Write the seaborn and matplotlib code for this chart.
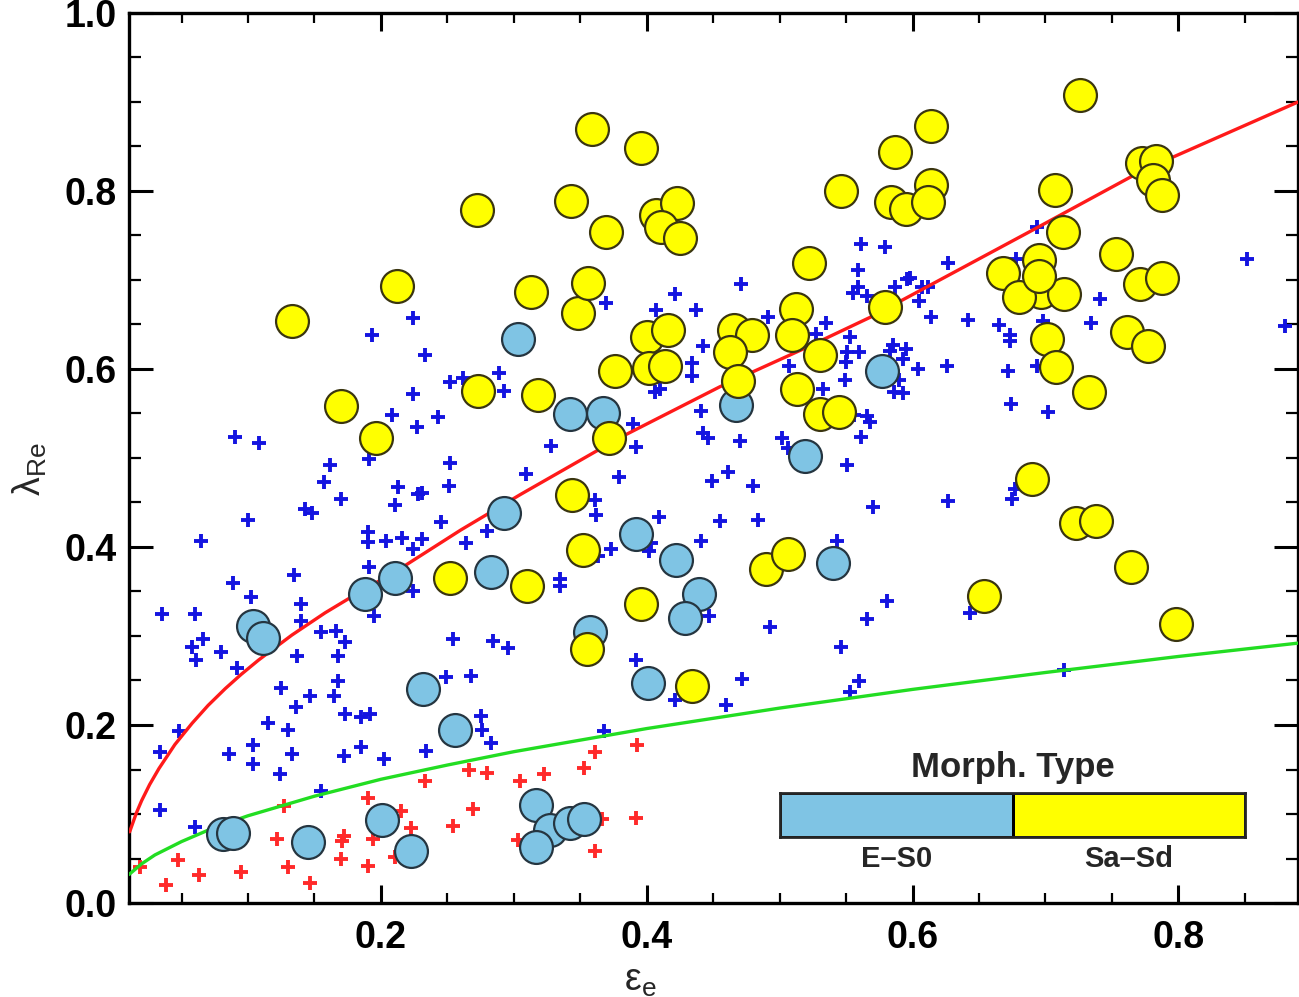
import numpy as np
import pandas as pd
import matplotlib
matplotlib.use('Agg')
import matplotlib.pyplot as plt
import seaborn as sns
from matplotlib.colors import ListedColormap
from matplotlib.ticker import MultipleLocator, FormatStrFormatter

### Sa-Sd galaxies (yellow circles)
yel_eps = [0.133, 0.212, 0.170, 0.196, 0.272, 0.273, 0.252, 0.313, 0.318, 0.310, 0.343, 0.348, 0.356, 0.359,
           0.369, 0.376, 0.372, 0.344, 0.352, 0.355, 0.396, 0.407, 0.423, 0.411, 0.425, 0.546, 0.587, 0.584,
           0.595, 0.522, 0.512, 0.579, 0.726, 0.614, 0.614, 0.612, 0.707, 0.773, 0.783, 0.781, 0.788, 0.713,
           0.695, 0.668, 0.697, 0.714, 0.680, 0.695, 0.753, 0.771, 0.788, 0.701, 0.708, 0.733, 0.761, 0.777,
           0.690, 0.723, 0.738, 0.764, 0.654, 0.798, 0.400, 0.416, 0.402, 0.414, 0.466, 0.479, 0.463, 0.469,
           0.509, 0.530, 0.513, 0.530, 0.545, 0.396, 0.490, 0.506, 0.434]
yel_lam = [0.654, 0.693, 0.558, 0.522, 0.779, 0.575, 0.365, 0.686, 0.571, 0.356, 0.789, 0.663, 0.697, 0.870,
           0.754, 0.598, 0.523, 0.458, 0.397, 0.285, 0.848, 0.773, 0.787, 0.759, 0.747, 0.800, 0.844, 0.788,
           0.780, 0.719, 0.667, 0.670, 0.908, 0.873, 0.807, 0.788, 0.801, 0.831, 0.834, 0.812, 0.796, 0.754,
           0.723, 0.708, 0.687, 0.684, 0.681, 0.705, 0.729, 0.696, 0.702, 0.634, 0.602, 0.574, 0.642, 0.626,
           0.476, 0.427, 0.429, 0.377, 0.345, 0.313, 0.636, 0.644, 0.601, 0.603, 0.644, 0.638, 0.619, 0.587,
           0.638, 0.616, 0.578, 0.549, 0.552, 0.336, 0.375, 0.392, 0.244]

### E-S0 galaxies (light blue circles)
blu_eps = [0.303, 0.293, 0.283, 0.211, 0.188, 0.342, 0.367, 0.467, 0.577, 0.519, 0.392, 0.422, 0.540, 0.439,
           0.429, 0.357, 0.401, 0.317, 0.327, 0.317, 0.342, 0.353, 0.104, 0.111, 0.232, 0.256, 0.081, 0.089,
           0.145, 0.201, 0.223]
blu_lam = [0.634, 0.438, 0.372, 0.365, 0.347, 0.549, 0.551, 0.559, 0.598, 0.502, 0.415, 0.385, 0.382, 0.347,
           0.320, 0.304, 0.247, 0.110, 0.082, 0.063, 0.090, 0.094, 0.311, 0.298, 0.240, 0.194, 0.077, 0.079,
           0.068, 0.093, 0.058]

### fast rotators (blue crosses), (eps, lambda)
fast_pts = [
    (0.224, 0.657), (0.193, 0.638), (0.233, 0.616), (0.289, 0.596), (0.262, 0.590), (0.252, 0.585), (0.293, 0.575),
    (0.224, 0.572), (0.208, 0.548), (0.243, 0.546), (0.227, 0.535), (0.090, 0.524), (0.108, 0.517), (0.191, 0.499),
    (0.162, 0.492), (0.252, 0.494), (0.157, 0.473), (0.213, 0.467), (0.251, 0.469), (0.228, 0.459), (0.231, 0.461),
    (0.170, 0.454), (0.211, 0.447), (0.143, 0.443), (0.148, 0.438), (0.100, 0.430), (0.245, 0.428), (0.065, 0.407),
    (0.190, 0.417), (0.190, 0.406), (0.204, 0.407), (0.216, 0.410), (0.231, 0.409), (0.224, 0.398), (0.264, 0.404),
    (0.280, 0.418), (0.191, 0.377), (0.135, 0.368), (0.089, 0.359), (0.102, 0.344), (0.224, 0.351), (0.140, 0.336),
    (0.035, 0.325), (0.060, 0.325), (0.140, 0.317), (0.195, 0.323), (0.066, 0.297), (0.058, 0.288), (0.061, 0.273),
    (0.080, 0.282), (0.092, 0.264), (0.155, 0.304), (0.166, 0.306), (0.173, 0.293), (0.137, 0.277), (0.168, 0.278),
    (0.168, 0.250), (0.254, 0.297), (0.284, 0.294), (0.296, 0.286), (0.125, 0.242), (0.147, 0.233), (0.165, 0.233),
    (0.136, 0.220), (0.249, 0.254), (0.268, 0.255), (0.173, 0.212), (0.185, 0.209), (0.192, 0.212), (0.115, 0.202),
    (0.130, 0.194), (0.048, 0.193), (0.034, 0.170), (0.086, 0.167), (0.104, 0.177), (0.104, 0.156), (0.133, 0.167),
    (0.172, 0.165), (0.185, 0.175), (0.202, 0.162), (0.234, 0.171), (0.275, 0.210), (0.276, 0.194), (0.283, 0.180),
    (0.124, 0.145), (0.155, 0.126), (0.034, 0.104), (0.060, 0.085),
    (0.447, 0.322), (0.493, 0.310), (0.566, 0.319), (0.546, 0.288), (0.392, 0.273), (0.472, 0.252), (0.560, 0.250),
    (0.553, 0.237), (0.421, 0.228), (0.460, 0.222), (0.368, 0.193), (0.643, 0.326), (0.714, 0.262),
    (0.491, 0.658), (0.535, 0.652), (0.442, 0.626), (0.434, 0.607), (0.434, 0.592), (0.406, 0.574), (0.410, 0.577),
    (0.527, 0.639), (0.553, 0.636), (0.551, 0.619), (0.560, 0.619), (0.550, 0.608), (0.585, 0.627), (0.583, 0.620),
    (0.593, 0.611), (0.595, 0.622), (0.507, 0.603), (0.549, 0.588), (0.590, 0.588), (0.533, 0.577), (0.586, 0.574),
    (0.593, 0.573), (0.441, 0.553), (0.390, 0.538), (0.392, 0.512), (0.328, 0.514), (0.442, 0.528), (0.446, 0.523),
    (0.470, 0.519), (0.502, 0.523), (0.506, 0.511), (0.556, 0.548), (0.566, 0.547), (0.568, 0.540), (0.561, 0.524),
    (0.551, 0.492), (0.309, 0.482), (0.379, 0.479), (0.461, 0.484), (0.449, 0.474), (0.480, 0.468), (0.361, 0.453),
    (0.362, 0.436), (0.409, 0.434), (0.455, 0.429), (0.484, 0.430), (0.570, 0.445), (0.441, 0.407), (0.403, 0.405),
    (0.402, 0.395), (0.373, 0.398), (0.363, 0.390), (0.543, 0.407), (0.335, 0.364), (0.335, 0.356), (0.581, 0.339),
    (0.614, 0.658), (0.642, 0.655), (0.665, 0.649), (0.673, 0.638), (0.673, 0.632), (0.698, 0.654), (0.734, 0.652),
    (0.604, 0.600), (0.626, 0.603), (0.672, 0.598), (0.694, 0.603), (0.674, 0.561), (0.702, 0.552), (0.880, 0.648),
    (0.627, 0.452), (0.675, 0.454), (0.677, 0.465),
    (0.694, 0.759), (0.627, 0.719), (0.678, 0.724), (0.852, 0.724), (0.598, 0.702), (0.607, 0.692), (0.612, 0.692),
    (0.605, 0.676), (0.741, 0.679),
    (0.561, 0.741), (0.579, 0.737), (0.559, 0.711), (0.559, 0.692), (0.555, 0.685), (0.566, 0.682), (0.587, 0.692),
    (0.596, 0.701), (0.471, 0.696), (0.421, 0.684), (0.369, 0.674), (0.407, 0.666), (0.437, 0.666),
]

### slow rotators (red crosses)
slow_pts = [
    (0.019, 0.040), (0.047, 0.048), (0.038, 0.020), (0.063, 0.031), (0.095, 0.035), (0.122, 0.072), (0.130, 0.040),
    (0.147, 0.023), (0.170, 0.049), (0.172, 0.075), (0.171, 0.070), (0.190, 0.118), (0.194, 0.072), (0.190, 0.042),
    (0.215, 0.103), (0.223, 0.084), (0.211, 0.052), (0.233, 0.137), (0.254, 0.087), (0.266, 0.150), (0.280, 0.146),
    (0.269, 0.106), (0.305, 0.137), (0.303, 0.071), (0.393, 0.178), (0.361, 0.170), (0.353, 0.152), (0.323, 0.145),
    (0.366, 0.094), (0.392, 0.095), (0.361, 0.058), (0.127, 0.109),
]

### curves
red_eps = [0.011, 0.016, 0.020, 0.026, 0.033, 0.045, 0.058, 0.070, 0.083, 0.095, 0.108, 0.133, 0.158, 0.178,
           0.200, 0.217, 0.260, 0.305, 0.380, 0.455, 0.520, 0.568, 0.598, 0.694, 0.773, 0.890]
red_lam = [0.080, 0.101, 0.115, 0.133, 0.151, 0.178, 0.202, 0.222, 0.241, 0.257, 0.273, 0.301, 0.326, 0.344,
           0.363, 0.378, 0.419, 0.459, 0.523, 0.580, 0.624, 0.658, 0.682, 0.759, 0.823, 0.900]
green_eps = [0.0105, 0.02, 0.03, 0.05, 0.075, 0.10, 0.15, 0.20, 0.25, 0.30, 0.40, 0.50, 0.60, 0.70, 0.80, 0.89]
green_lam = [0.032, 0.044, 0.054, 0.069, 0.085, 0.098, 0.120, 0.139, 0.155, 0.170, 0.196, 0.219, 0.240, 0.259,
             0.277, 0.292]

morph_types = ['E–S0', 'Sa–Sd']
c_e = '#7fc4e4'
c_s = '#ffff00'

sns.set_theme(style='ticks')
plt.rcParams['font.family'] = ['Liberation Sans', 'DejaVu Sans']
plt.rcParams['mathtext.fontset'] = 'custom'
plt.rcParams['mathtext.rm'] = 'Liberation Sans'

fast = pd.DataFrame(fast_pts, columns=['eps', 'lam'])
slow = pd.DataFrame(slow_pts, columns=['eps', 'lam'])

fig = plt.figure(figsize=(12.99, 9.97), dpi=100)
ax = fig.add_axes([129/1299, 1-903/997, 1169/1299, 890/997])

sns.scatterplot(data=fast, x='eps', y='lam', marker='+', color='#1414e0', s=95, linewidth=2.8, ax=ax, zorder=2)
sns.scatterplot(data=slow, x='eps', y='lam', marker='+', color='#ff2a2a', s=95, linewidth=2.8, ax=ax, zorder=2)
sns.lineplot(x=red_eps, y=red_lam, color='#ff1a1a', lw=2.4, sort=False, estimator=None, ax=ax, zorder=3)
sns.lineplot(x=green_eps, y=green_lam, color='#22dd22', lw=2.4, sort=False, estimator=None, ax=ax, zorder=3)
sns.scatterplot(x=blu_eps, y=blu_lam, color=c_e, s=560, edgecolor='#253540', linewidth=1.6, ax=ax, zorder=4)
sns.scatterplot(x=yel_eps, y=yel_lam, color=c_s, s=560, edgecolor='#3a3510', linewidth=1.6, ax=ax, zorder=5)

ax.set_xlim(0.0105, 0.89)
ax.set_ylim(0, 1.0)
ax.xaxis.set_major_locator(MultipleLocator(0.2))
ax.xaxis.set_minor_locator(MultipleLocator(0.05))
ax.yaxis.set_major_locator(MultipleLocator(0.2))
ax.yaxis.set_minor_locator(MultipleLocator(0.05))
ax.xaxis.set_major_formatter(FormatStrFormatter('%.1f'))
ax.yaxis.set_major_formatter(FormatStrFormatter('%.1f'))
ax.tick_params(which='both', direction='in', top=True, right=True, colors='black')
ax.tick_params(axis='x', which='major', length=13, width=2.2, pad=12)
ax.tick_params(axis='x', which='minor', length=7, width=1.6)
ax.tick_params(axis='y', which='major', length=17, width=2.2, pad=9)
ax.tick_params(axis='y', which='minor', length=8.5, width=1.6)
for lab in ax.get_xticklabels() + ax.get_yticklabels():
    lab.set_fontsize(27)
    lab.set_fontweight('bold')
for sp in ax.spines.values():
    sp.set_visible(True)
    sp.set_linewidth(2.4)
    sp.set_color('black')

ax.set_xlabel('ε$_{\\rm e}$', fontsize=27, va='center')
ax.set_ylabel('λ$_{\\rm Re}$', fontsize=27, va='center')
ax.xaxis.set_label_coords(0.437, -0.088)
ax.yaxis.set_label_coords(-0.085, 0.487)

### morphological type legend bar
ax_in = ax.inset_axes([0.557, 0.0742, 0.398, 0.0494])
sns.heatmap(np.array([[0, 1]]), cmap=ListedColormap([c_e, c_s]), cbar=False, linewidths=1.8,
            linecolor='black', xticklabels=False, yticklabels=False, ax=ax_in)
for sp in ax_in.spines.values():
    sp.set_visible(True)
    sp.set_linewidth(2)
ax_in.tick_params(left=False, bottom=False, top=False, right=False)
ax_in.text(0.5, 1.57, 'Morph. Type', transform=ax_in.transAxes, ha='center', va='center',
           fontsize=25, fontweight='bold')
for i, name in enumerate(morph_types):
    ax_in.text(0.25 + 0.5*i, -0.5, name, transform=ax_in.transAxes, ha='center', va='center',
               fontsize=21, fontweight='bold')

fig.savefig('out.png', dpi=100)
